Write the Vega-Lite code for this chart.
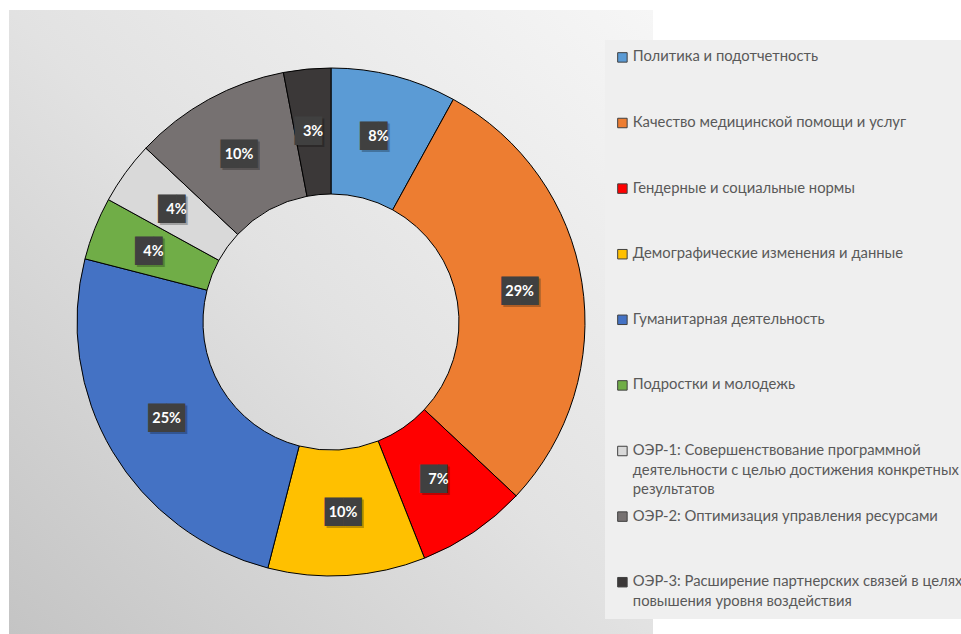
{
  "$schema": "https://vega.github.io/schema/vega-lite/v6.json",
  "width": 644,
  "height": 624,
  "autosize": {"type": "none"},
  "padding": {"left": 9, "top": 10, "right": 308, "bottom": 0},
  "background": "#ffffff",
  "config": {"view": {"stroke": null}},
  "data": {
    "values": [
      {"order": 1, "cat": "Политика и подотчетность", "share": 0.08},
      {"order": 2, "cat": "Качество медицинской помощи и услуг", "share": 0.29},
      {"order": 3, "cat": "Гендерные и социальные нормы", "share": 0.07},
      {"order": 4, "cat": "Демографические изменения и данные", "share": 0.10},
      {"order": 5, "cat": "Гуманитарная деятельность", "share": 0.25},
      {"order": 6, "cat": "Подростки и молодежь", "share": 0.04},
      {"order": 7, "cat": "ОЭР-1: Совершенствование программной деятельности с целью достижения конкретных результатов", "share": 0.04},
      {"order": 8, "cat": "ОЭР-2: Оптимизация управления ресурсами", "share": 0.10},
      {"order": 9, "cat": "ОЭР-3: Расширение партнерских связей в целях повышения уровня воздействия", "share": 0.03}
    ]
  },
  "layer": [
    {
      "mark": {
        "type": "rect",
        "color": {
          "gradient": "linear", "x1": 0, "y1": 1, "x2": 1, "y2": 0,
          "stops": [{"offset": 0, "color": "#c4c4c4"}, {"offset": 0.5, "color": "#e2e2e2"}, {"offset": 1, "color": "#f6f6f6"}]
        }
      },
      "encoding": {}
    },
    {
      "mark": {"type": "arc", "outerRadius": 254, "innerRadius": 128, "stroke": "#000000", "strokeWidth": 1},
      "encoding": {
        "theta": {"field": "share", "type": "quantitative", "stack": true},
        "order": {"field": "order"},
        "color": {
          "field": "cat", "type": "nominal",
          "scale": {
            "domain": [
              "Политика и подотчетность",
              "Качество медицинской помощи и услуг",
              "Гендерные и социальные нормы",
              "Демографические изменения и данные",
              "Гуманитарная деятельность",
              "Подростки и молодежь",
              "ОЭР-1: Совершенствование программной деятельности с целью достижения конкретных результатов",
              "ОЭР-2: Оптимизация управления ресурсами",
              "ОЭР-3: Расширение партнерских связей в целях повышения уровня воздействия"
            ],
            "range": ["#5b9bd5", "#ed7d31", "#ff0000", "#ffc000", "#4472c4", "#70ad47", "#d9d9d9", "#767171", "#3b3838"]
          },
          "sort": null,
          "legend": {
            "title": null,
            "orient": "none",
            "legendX": 596,
            "legendY": 30,
            "direction": "vertical",
            "columns": 1,
            "gridAlign": "all",
            "fillColor": "#efefef",
            "padding": 10,
            "rowPadding": 10.6,
            "symbolType": "square",
            "symbolSize": 90,
            "symbolStrokeColor": "#404040",
            "symbolStrokeWidth": 1,
            "symbolOffset": 0,
            "labelOffset": 3,
            "labelFont": "Lato",
            "labelFontSize": 14.8,
            "labelColor": "#595959",
            "labelLimit": 400,
            "labelBaseline": "middle",
            "labelExpr": "datum.label == 'ОЭР-1: Совершенствование программной деятельности с целью достижения конкретных результатов' ? ['ОЭР-1: Совершенствование  программной', 'деятельности с целью достижения конкретных', 'результатов'] : datum.label == 'ОЭР-3: Расширение партнерских связей в целях повышения уровня воздействия' ? ['ОЭР-3: Расширение партнерских связей в целях', 'повышения уровня воздействия'] : datum.label",
            "encode": {"labels": {"update": {"lineHeight": {"value": 19.5}}}}
          }
        }
      }
    },
    {
      "mark": {"type": "text", "radius": 191, "font": "DejaVu Sans", "fontSize": 24, "dx": 2, "dy": 2, "color": "#000000", "opacity": 0.25},
      "encoding": {
        "theta": {"field": "share", "type": "quantitative", "stack": true},
        "order": {"field": "order"},
        "text": {"condition": {"test": "datum.share < 0.1", "value": "█▌"}, "value": "██"}
      }
    },
    {
      "mark": {"type": "text", "radius": 191, "font": "DejaVu Sans", "fontSize": 24, "color": "#404040"},
      "encoding": {
        "theta": {"field": "share", "type": "quantitative", "stack": true},
        "order": {"field": "order"},
        "text": {"condition": {"test": "datum.share < 0.1", "value": "█▌"}, "value": "██"}
      }
    },
    {
      "mark": {"type": "text", "radius": 191, "font": "Lato", "fontSize": 14.5, "fontWeight": "bold", "color": "#ffffff"},
      "encoding": {
        "theta": {"field": "share", "type": "quantitative", "stack": true},
        "order": {"field": "order"},
        "text": {"field": "share", "type": "quantitative", "format": ".0%"}
      }
    }
  ]
}
